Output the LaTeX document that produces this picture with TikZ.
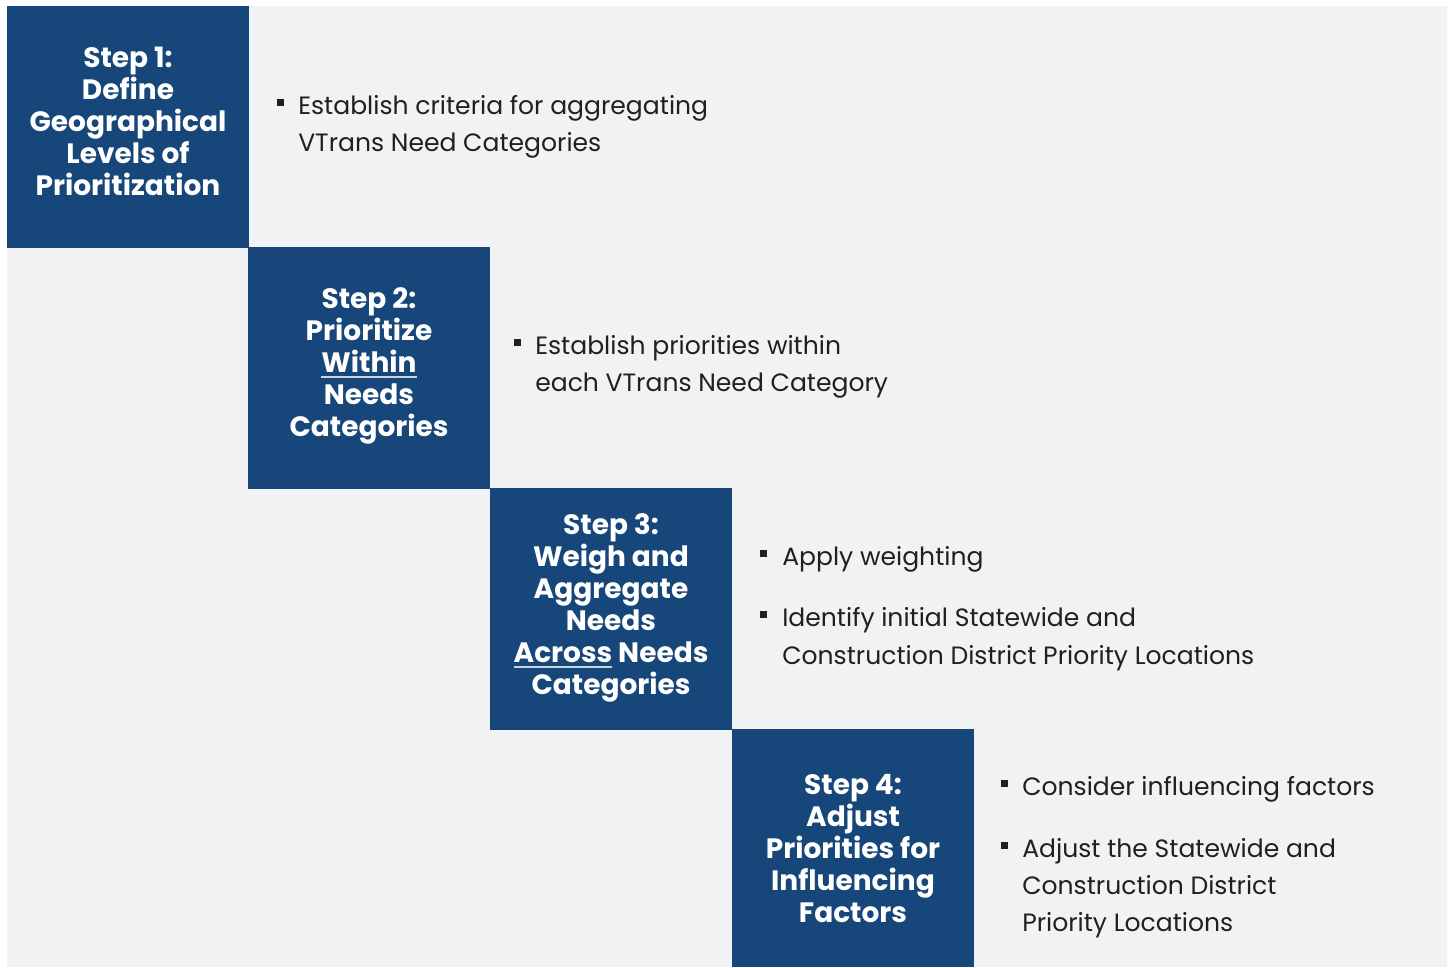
\documentclass[tikz,border=0pt]{standalone}
\usepackage{fontspec}
\setmainfont{Poppins}
\definecolor{stepblue}{HTML}{17477A}
\definecolor{bggray}{HTML}{F1F2F4}
\definecolor{bodytext}{HTML}{231F20}
\definecolor{ulcol}{HTML}{C9D3E0}
\newcommand{\myul}[1]{\leavevmode\setbox0\hbox{#1}\rlap{\color{ulcol}\rule[-3.8pt]{\wd0}{0.9pt}}\box0{}}
\tikzset{
  stepbox/.style={fill=stepblue, draw=none, inner sep=0pt, minimum width=181.5pt, minimum height=181.5pt},
  steptext/.style={text=white, align=center, inner sep=0pt, font=\fontsize{21}{24}\selectfont\bfseries},
  itemline/.style={text=bodytext, anchor=base west, inner sep=0pt, font=\fontsize{18.8}{20}\selectfont},
  bulletsq/.style={fill=bodytext}
}
\begin{document}
\begin{tikzpicture}[x=0.75pt,y=-0.75pt]
\useasboundingbox (0,0) rectangle (1448,967);
\fill[bggray] (7,6) rectangle (1447,967);
% boxes
\node[stepbox] (b1) at (128,127) {};
\node[stepbox] (b2) at (369,368) {};
\node[stepbox] (b3) at (611,609) {};
\node[stepbox, minimum height=178.5pt] (b4) at (853,848) {};
% headings
\node[steptext] (h1) at (128,121) {Step 1:\\Define\\Geographical\\Levels of\\Prioritization};
\node[steptext] (h2) at (369,366) {Step 2:\\Prioritize\\\myul{Within}\\Needs\\Categories};
\node[steptext] (h3) at (611,608) {Step 3:\\Weigh and\\Aggregate\\Needs\\\myul{Across} Needs\\Categories};
\node[steptext] (h4) at (853,849) {Step 4:\\Adjust\\Priorities for\\Influencing\\Factors};
% step 1 items
\fill[bulletsq] (277,99) rectangle (284,106);
\node[itemline] (t1a) at (298,114) {Establish criteria for aggregating};
\node[itemline] (t1b) at (298,151) {VTrans Need Categories};
% step 2 items
\fill[bulletsq] (514,339) rectangle (521,346);
\node[itemline] (t2a) at (535,354) {Establish priorities within};
\node[itemline] (t2b) at (535,391) {each VTrans Need Category};
% step 3 items
\fill[bulletsq] (760,550) rectangle (767,557);
\node[itemline] (t3a) at (782,565) {Apply weighting};
\fill[bulletsq] (760,611) rectangle (767,618);
\node[itemline] (t3b) at (782,626) {Identify initial Statewide and};
\node[itemline] (t3c) at (782,664) {Construction District Priority Locations};
% step 4 items
\fill[bulletsq] (1001,780) rectangle (1008,787);
\node[itemline] (t4a) at (1022,795) {Consider influencing factors};
\fill[bulletsq] (1001,842) rectangle (1008,849);
\node[itemline] (t4b) at (1022,857) {Adjust the Statewide and};
\node[itemline] (t4c) at (1022,894) {Construction District};
\node[itemline] (t4d) at (1022,931) {Priority Locations};
\end{tikzpicture}
\end{document}
